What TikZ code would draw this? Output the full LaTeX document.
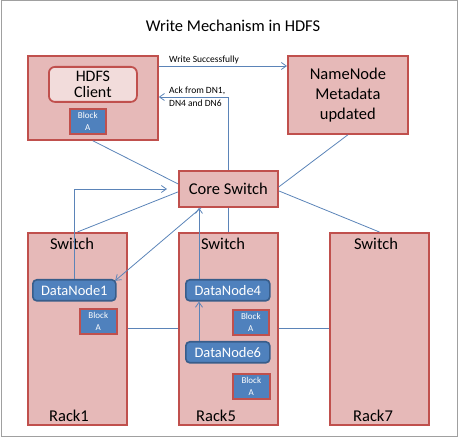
\documentclass[tikz,border=0pt]{standalone}
\usepackage{fontspec}
\setmainfont{Carlito}
\usetikzlibrary{arrows.meta,calc}
\definecolor{boxfill}{HTML}{E6B9B8}
\definecolor{boxline}{HTML}{C0504D}
\definecolor{lightfill}{HTML}{F2DCDB}
\definecolor{bluefill}{HTML}{4F81BD}
\definecolor{blueline}{HTML}{385D8A}
\definecolor{connc}{HTML}{5B84B8}
\definecolor{framec}{HTML}{A0A0A0}
\tikzset{
  redbox/.style={draw=boxline, fill=boxfill, line width=1.8pt, inner sep=0pt, anchor=north west},
  clientin/.style={draw=boxline, fill=lightfill, line width=1.8pt, rounded corners=6pt, inner sep=0pt, anchor=north west, align=center, font=\fontsize{16}{17}\selectfont},
  dnode/.style={draw=blueline, fill=bluefill, line width=1.6pt, rounded corners=4pt, inner sep=0pt, anchor=north west, text=white, font=\fontsize{14.5}{16}\selectfont},
  blockbox/.style={draw=boxline, fill=bluefill, line width=1.6pt, inner sep=0pt, anchor=north west, text=white, align=center, font=\fontsize{9}{11.5}\selectfont},
  big/.style={font=\fontsize{16.5}{20}\selectfont, inner sep=0pt},
  small/.style={font=\fontsize{9.5}{13}\selectfont, inner sep=0pt, align=left},
  conn/.style={draw=connc, line width=0.8pt},
  arr/.style={conn, -{Straight Barb[length=5pt,width=7pt]}},
}
\begin{document}
\begin{tikzpicture}[x=1pt,y=-1pt]
\useasboundingbox (0,0) rectangle (458,438);
\draw[framec, line width=1pt] (1,1) rectangle (457,436);
\node[big] (title) at (233,26) {Write Mechanism in HDFS};
% client
\node[redbox, minimum width=130pt, minimum height=84pt] (client) at (27,55) {};
\node[clientin, minimum width=88pt, minimum height=35pt] (clientin) at (48,66) {HDFS\\[-1pt]Client};
\node[blockbox, minimum width=36pt, minimum height=25pt] (b0) at (69,108) {Block\\A};
% namenode
\node[redbox, minimum width=120pt, minimum height=78pt, align=center, font=\fontsize{16.5}{20}\selectfont] (nn) at (287,55) {NameNode\\Metadata\\updated};
% core switch
\node[redbox, minimum width=99pt, minimum height=36pt, font=\fontsize{16.5}{20}\selectfont] (cs) at (178,170) {Core Switch};
% racks
\node[redbox, minimum width=99pt, minimum height=192pt] (r1) at (27,232) {};
\node[redbox, minimum width=99pt, minimum height=192pt] (r5) at (178,232) {};
\node[redbox, minimum width=99pt, minimum height=192pt] (r7) at (329,232) {};
\node[big] (s1) at (72,244) {Switch};
\node[big] (s5) at (223,244) {Switch};
\node[big] (s7) at (376,244) {Switch};
\node[big] (l1) at (69,416) {Rack1};
\node[big] (l5) at (216,416) {Rack5};
\node[big] (l7) at (373,416) {Rack7};
% connectors
\coordinate (wsy) at (0,66);
\coordinate (acky) at (0,97);
\coordinate (hy) at (0,328);
\coordinate (vx) at (199,0);
\coordinate (r1end) at (167,189);
\draw[arr] (client.east |- wsy) -- (nn.west |- wsy);
\node[small, anchor=south west] (wslab) at (169,64) {Write Successfully};
\draw[arr] (cs.north) |- (client.east |- acky);
\node[small, anchor=north west] (acklab) at (169,87) {Ack from DN1,\\DN4 and DN6};
\draw[conn] (client.south) -- ([yshift=5pt]cs.west);
\draw[conn] (nn.south) -- ([yshift=2pt]cs.east);
\draw[conn] ([yshift=-2pt]cs.east) -- (r7.north);
\draw[conn] (r1.north) -- ([yshift=-3pt]cs.west);
\draw[conn] (cs.south) -- (r5.north);
\draw[conn] (r1.east |- hy) -- (r5.west |- hy);
\draw[conn] (r5.east |- hy) -- (r7.west |- hy);
% data nodes
\node[dnode, minimum width=83pt, minimum height=21pt] (dn1) at (32,279) {DataNode1};
\node[blockbox, minimum width=37pt, minimum height=25pt] (b1) at (79,308) {Block\\A};
\node[dnode, minimum width=84pt, minimum height=21pt] (dn4) at (185,279) {DataNode4};
\node[blockbox, minimum width=36pt, minimum height=25pt] (b4) at (232,309) {Block\\A};
\node[dnode, minimum width=84pt, minimum height=21pt] (dn6) at (185,341) {DataNode6};
\node[blockbox, minimum width=37pt, minimum height=25pt] (b6) at (232,373) {Block\\A};
\draw[arr] (dn1.north) |- (r1end);
\draw[arr] (dn6.north -| vx) -- (dn4.south -| vx);
\draw[arr] (dn4.north -| vx) -- (cs.south -| vx);
\draw[arr, shorten >=2pt] ([xshift=2pt]cs.south -| vx) -- ([xshift=-3pt,yshift=-3pt]dn1.north east);
\end{tikzpicture}
\end{document}
